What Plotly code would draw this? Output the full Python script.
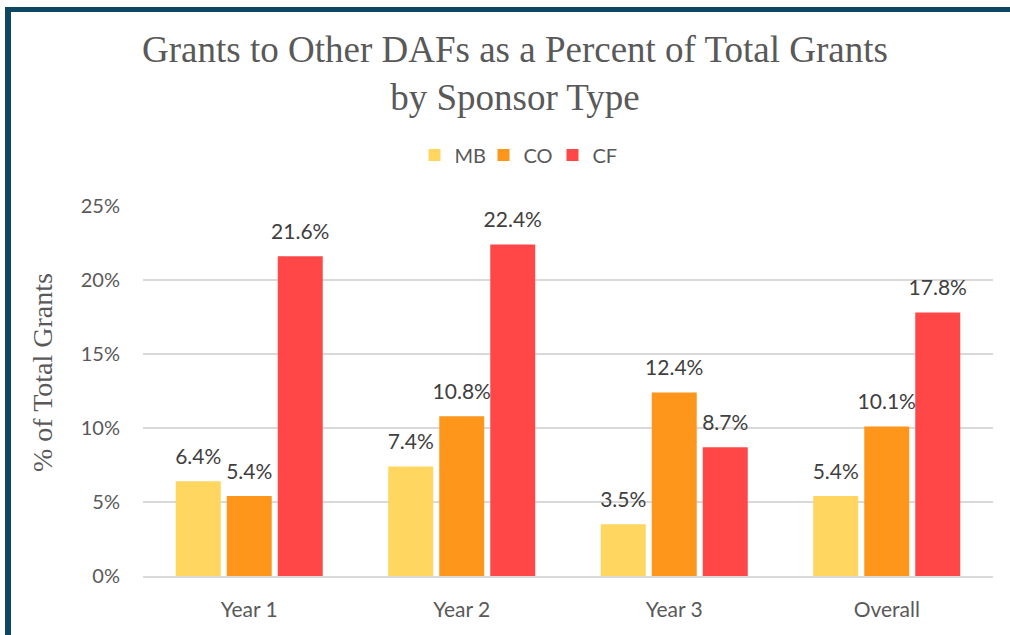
import plotly.graph_objects as go

categories = ["Year 1", "Year 2", "Year 3", "Overall"]
series_names = ["MB", "CO", "CF"]
mb_values = [6.4, 7.4, 3.5, 5.4]
co_values = [5.4, 10.8, 12.4, 10.1]
cf_values = [21.6, 22.4, 8.7, 17.8]
y_ticks = [0, 5, 10, 15, 20, 25]
y_tick_labels = ["0%", "5%", "10%", "15%", "20%", "25%"]

colors = ["#FFD65F", "#FF961C", "#FF4747"]
values = [mb_values, co_values, cf_values]

sans = "Lato, 'Open Sans', sans-serif"
serif = "'Liberation Serif', 'Times New Roman', serif"

fig = go.Figure()
for name, vals, col in zip(series_names, values, colors):
    fig.add_trace(go.Bar(
        x=categories, y=vals, name=name,
        marker=dict(color=col, line=dict(width=0)),
        offsetgroup=name,
        hoverinfo="skip",
    ))
for name, vals in zip(series_names, values):
    fig.add_trace(go.Scatter(
        x=categories, y=vals, mode="text+markers",
        marker=dict(size=18, opacity=0),
        text=[f"{v:.1f}%" for v in vals],
        textposition="top center",
        textfont=dict(family=sans, size=21, color="#404040"),
        offsetgroup=name,
        showlegend=False, cliponaxis=False, hoverinfo="skip",
    ))

# Plot area in pixels: x 143..993, y 206..576
L, R, T, B = 143, 993, 206, 576
W, H = 1010, 635
def px_x(p):
    return (p - L) / (R - L)
def px_y(p):
    return (B - p) / (B - T)

shapes = [
    dict(type="rect", xref="paper", yref="paper",
         x0=px_x(5), x1=px_x(11), y0=px_y(H + 5), y1=px_y(7),
         fillcolor="#0E4761", line=dict(width=0), layer="above"),
    dict(type="rect", xref="paper", yref="paper",
         x0=px_x(5), x1=px_x(W + 5), y0=px_y(12), y1=px_y(7),
         fillcolor="#0E4761", line=dict(width=0), layer="above"),
]

annotations = [
    dict(text="% of Total Grants", textangle=-90, showarrow=False,
         xref="paper", yref="paper", x=px_x(42), y=px_y(373),
         xanchor="center", yanchor="middle",
         font=dict(family=serif, size=28, color="#595959")),
]

fig.update_layout(
    width=W, height=H,
    margin=dict(l=L, r=W - R, t=T, b=H - B, autoexpand=False),
    paper_bgcolor="white", plot_bgcolor="white",
    barmode="group", bargap=0.28, bargroupgap=0.118,
    scattermode="group", scattergap=0.28,
    title=dict(
        text="Grants to Other DAFs as a Percent of Total Grants<br>by Sponsor Type",
        font=dict(family=serif, size=37, color="#595959"),
        x=px_x(515), xanchor="center", xref="paper",
        y=1 - 62 / H, yanchor="middle", yref="container",
    ),
    legend=dict(
        orientation="h", x=px_x(518), xanchor="center",
        y=px_y(155), yanchor="middle",
        font=dict(family=sans, size=20, color="#595959"),
        itemwidth=30, entrywidth=24, entrywidthmode="pixels",
        traceorder="normal",
    ),
    xaxis=dict(
        range=[-0.5, 3.5], showgrid=False, showline=True,
        linecolor="#D9D9D9", linewidth=1.5,
        ticks="", tickfont=dict(family=sans, size=21, color="#595959"),
        ticklabelstandoff=14,
    ),
    yaxis=dict(
        range=[0, 25], tickvals=y_ticks, ticktext=y_tick_labels,
        showgrid=True, gridcolor="#D9D9D9", gridwidth=1.5,
        zeroline=False, showline=False, ticks="",
        tickfont=dict(family=sans, size=20, color="#595959"),
        ticklabelstandoff=22,
    ),
    shapes=shapes,
    annotations=annotations,
)

fig.write_html("out.html", config={"displayModeBar": False},
               post_script="document.body.style.margin='0';")
